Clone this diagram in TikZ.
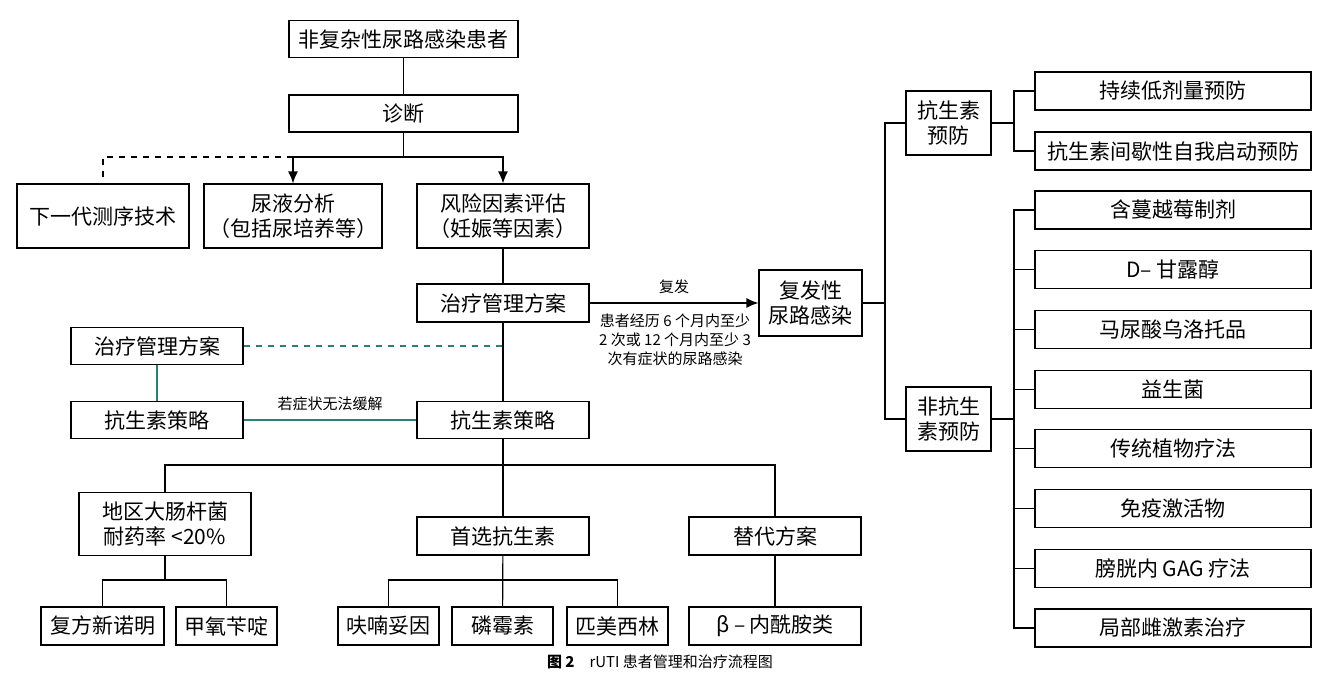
\documentclass[tikz,border=0pt]{standalone}
\usepackage{fontspec}
\setmainfont{Noto Sans CJK SC}
\usetikzlibrary{arrows.meta}
\definecolor{tealline}{RGB}{40,128,118}
\tikzset{
  box/.style={draw, line width=0.6pt, inner sep=0pt, align=center, font=\fontsize{10.5}{12.5}\selectfont},
  link/.style={line width=0.6pt},
  arr/.style={link, -{Latex[length=6pt,width=5pt]}},
  note/.style={font=\fontsize{7.5}{9.5}\selectfont, align=center},
}
\begin{document}
\begin{tikzpicture}[x=0.5pt,y=-0.5pt]
\useasboundingbox (0,0) rectangle (1319,681);

% top part
\node[box, minimum width=114.5pt, minimum height=18.5pt] (patient) at (403.5,39) {非复杂性尿路感染患者};
\node[box, minimum width=114.5pt, minimum height=18.5pt] (diag) at (403.5,113.5) {诊断};
\node[box, minimum width=86pt, minimum height=32pt] (ngs) at (103,216) {下一代测序技术};
\node[box, minimum width=89pt, minimum height=32pt] (urine) at (293,216) {尿液分析\\（包括尿培养等）};
\node[box, minimum width=86pt, minimum height=32pt] (risk) at (503,216) {风险因素评估\\（妊娠等因素）};
\node[box, minimum width=86pt, minimum height=19pt] (plan) at (503,303) {治疗管理方案};
\node[box, minimum width=86pt, minimum height=18.5pt] (lplan) at (157,346) {治疗管理方案};
\node[box, minimum width=86pt, minimum height=18.5pt] (labx) at (157,420) {抗生素策略};
\node[box, minimum width=86pt, minimum height=18.5pt] (abx) at (503,420) {抗生素策略};

\coordinate (br1) at (403.5,157);
\draw[link] (patient) -- (diag);
\draw[link] (diag) -- (br1);
\draw[arr] (br1) -| (urine.north);
\draw[arr] (br1) -| (risk.north);
\draw[link, dashed] (urine.north |- br1) -| (ngs.north);
\draw[link] (risk) -- (plan);
\draw[link] (plan) -- (abx);
\draw[link, tealline, dashed] (lplan.east) -- (lplan.east -| plan.south);
\draw[link, tealline] (lplan) -- (labx);
\draw[link, tealline] (labx) -- node[above=1pt, note, text=black] {若症状无法缓解} (abx);

% relapse
\node[box, minimum width=51.5pt, minimum height=33pt] (relapse) at (810.5,303) {复发性\\尿路感染};
\draw[arr] (plan) -- node[above=1pt, note] {复发} (relapse);
\node[note] (crit) at (675,340) {患者经历 6 个月内至少\\2 次或 12 个月内至少 3\\次有症状的尿路感染};

% lower tree
\node[box, minimum width=86pt, minimum height=31.5pt] (region) at (165,524) {地区大肠杆菌\\耐药率 <20\%};
\node[box, minimum width=86pt, minimum height=19pt] (first) at (503,536) {首选抗生素};
\node[box, minimum width=86pt, minimum height=19pt] (alt) at (775,536) {替代方案};
\node[box, minimum width=61.5pt, minimum height=19pt] (smz) at (102.5,626) {复方新诺明};
\node[box, minimum width=50.5pt, minimum height=19pt] (tmp) at (226.5,626) {甲氧苄啶};
\node[box, minimum width=50.5pt, minimum height=19pt] (nit) at (388.5,626) {呋喃妥因};
\node[box, minimum width=50.5pt, minimum height=19pt] (fos) at (502.5,626) {磷霉素};
\node[box, minimum width=50.5pt, minimum height=19pt] (piv) at (617.5,626) {匹美西林};
\node[box, minimum width=86pt, minimum height=19pt] (beta) at (775,626) {β – 内酰胺类};

\coordinate (br2) at (503,465);
\draw[link] (abx) -- (br2);
\draw[link] (region.north) |- (br2) -| (alt.north);
\draw[link] (br2) -- (first);
\draw[link] (region.south) -- (region.south |- 0,580);
\draw[link] (smz.north) |- (region.south |- 0,580) -| (tmp.north);
\draw[link] (first) -- (fos);
\draw[link] (nit.north) |- (first.south |- 0,580) -| (piv.north);
\draw[link] (alt) -- (beta);

% right part
\node[box, minimum width=42.5pt, minimum height=32pt] (abp) at (948.5,123) {抗生素\\预防};
\node[box, minimum width=42.5pt, minimum height=32pt] (nap) at (948.5,419) {非抗生\\素预防};
\node[box, minimum width=138pt, minimum height=19pt] (low) at (1173,91) {持续低剂量预防};
\node[box, minimum width=138pt, minimum height=19pt] (self) at (1173,151) {抗生素间歇性自我启动预防};
\coordinate (rt) at (885,303);
\coordinate (st1) at (1014,123);
\coordinate (st2) at (1014,419);
\draw[link] (relapse) -- (rt);
\draw[link] (abp.west) -| (rt);
\draw[link] (nap.west) -| (rt);
\draw[link] (abp) -- (st1);
\draw[link] (low.west) -| (st1);
\draw[link] (self.west) -| (st1);
\draw[link] (nap) -- (st2);
\foreach \t [count=\i] in {含蔓越莓制剂, D– 甘露醇, 马尿酸乌洛托品, 益生菌, 传统植物疗法, 免疫激活物, 膀胱内 GAG 疗法, 局部雌激素治疗}{
  \node[box, minimum width=138pt, minimum height=19pt] (np\i) at (1173,{210+(\i-1)*59.7}) {\t};
  \draw[link] (np\i.west) -| (st2);
}

% caption
\node[font=\fontsize{7.5}{9}\selectfont] (cap) at (660,662) {\textbf{图 2}\quad rUTI 患者管理和治疗流程图};
\end{tikzpicture}
\end{document}
